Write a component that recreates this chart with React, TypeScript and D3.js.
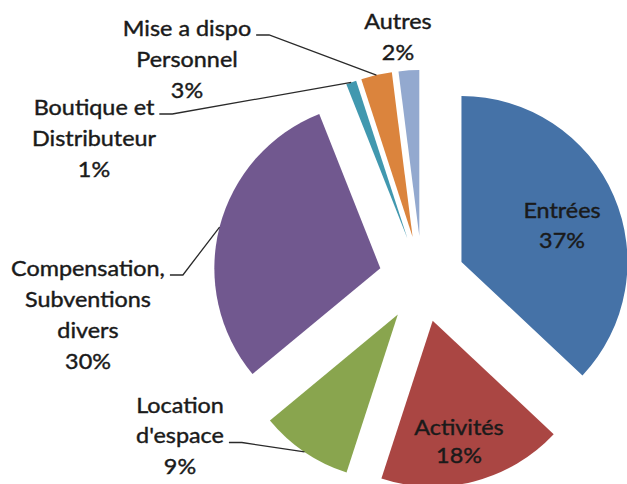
import React, { useEffect, useRef } from "react";
import * as d3 from "d3";

// ---- data ----
const categories = [
  "Entrées",
  "Activités",
  "Location d'espace",
  "Compensation, Subventions divers",
  "Boutique et Distributeur",
  "Mise a dispo Personnel",
  "Autres",
];
const values = [37, 18, 9, 30, 1, 3, 2];
const nameLines = [
  ["Entrées"],
  ["Activités"],
  ["Location", "d'espace"],
  ["Compensation,", "Subventions", "divers"],
  ["Boutique et", "Distributeur"],
  ["Mise a dispo", "Personnel"],
  ["Autres"],
];
const colors = ["#4572A7", "#AA4643", "#89A54E", "#71588F", "#4198AF", "#DB843D", "#93A9CF"];

// ---- layout ----
const W = 627;
const H = 484;
const CX = 422;
const CY = 279;
const R = 166;
const EXPLODE = 43;
const FONT = "Lato, 'Open Sans', sans-serif";
const FONT_SIZE = 20.5;
const SX = 1.14;
// label anchor: centre x, first line centre y, line height, leader attach line (-1 none)
const labelLayout = [
  { x: 562, y: 210, lh: 30, leader: -1 },
  { x: 459, y: 427, lh: 28, leader: -1 },
  { x: 180, y: 405, lh: 30.5, leader: 1 },
  { x: 88, y: 268, lh: 31, leader: 0 },
  { x: 94, y: 107, lh: 31, leader: 0 },
  { x: 187, y: 28, lh: 31, leader: 0 },
  { x: 398, y: 21, lh: 31, leader: -1 },
];

export default function App() {
  const ref = useRef<SVGSVGElement | null>(null);

  useEffect(() => {
    const svg = d3.select(ref.current);
    svg.selectAll("*").remove();

    const pie = d3
      .pie<number>()
      .sort(null)
      .value((d) => d)
      .startAngle(0)
      .endAngle(2 * Math.PI);
    const arcs = pie(values);
    const arc = d3.arc<d3.PieArcDatum<number>>().innerRadius(0).outerRadius(R);

    const off = (a: d3.PieArcDatum<number>) => {
      const m = (a.startAngle + a.endAngle) / 2;
      return [Math.sin(m), -Math.cos(m), m] as const;
    };

    const g = svg.append("g");
    g.selectAll("path.slice")
      .data(arcs)
      .join("path")
      .attr("class", "slice")
      .attr("d", (d) => arc(d) as string)
      .attr("fill", (_, i) => colors[i])
      .attr("transform", (d) => {
        const [ux, uy] = off(d);
        return `translate(${CX + EXPLODE * ux},${CY + EXPLODE * uy})`;
      });

    const labels = svg.append("g");
    arcs.forEach((a, i) => {
      const lay = labelLayout[i];
      const lines = [...nameLines[i], `${values[i]}%`];
      const widths: number[] = [];
      lines.forEach((ln, k) => {
        const t = labels
          .append("g")
          .attr("transform", `translate(${lay.x},${lay.y + k * lay.lh}) scale(${SX},1)`)
          .append("text")
          .attr("text-anchor", "middle")
          .attr("dominant-baseline", "central")
          .attr("font-family", FONT)
          .attr("font-size", FONT_SIZE)
          .attr("fill", "#1a1a1a")
          .attr("stroke", "#1a1a1a")
          .attr("stroke-width", 0.4)
          .text(ln);
        const node = t.node() as SVGTextElement;
        widths.push(node.getComputedTextLength() * SX);
      });
      if (lay.leader >= 0) {
        const [ux, uy] = off(a);
        const ex = CX + (EXPLODE + R) * ux;
        const ey = CY + (EXPLODE + R) * uy;
        const sx = lay.x + widths[lay.leader] / 2 + 5;
        const sy = lay.y + lay.leader * lay.lh + 7;
        const pts: [number, number][] = [
          [sx, sy],
          [sx + 13, sy],
          [ex, ey],
        ];
        labels
          .append("path")
          .attr("d", d3.line()(pts) as string)
          .attr("fill", "none")
          .attr("stroke", "#2a2a2a")
          .attr("stroke-width", 1.3);
      }
    });
  }, []);

  return (
    <svg
      ref={ref}
      width={W}
      height={H}
      style={{ position: "absolute", left: 0, top: 0, background: "#fff" }}
      aria-label={categories.join(", ")}
    />
  );
}
